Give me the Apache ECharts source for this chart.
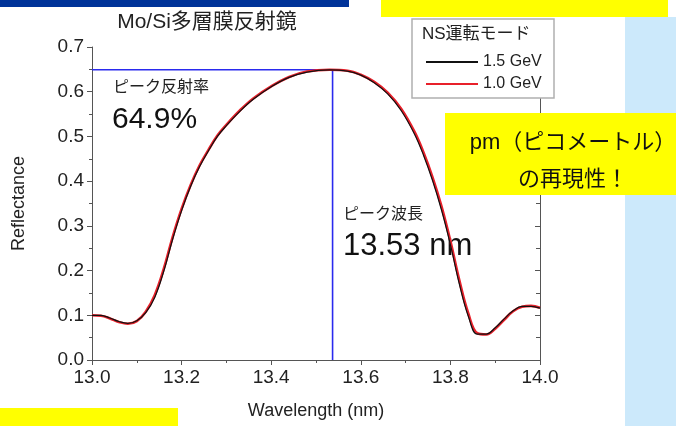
<!DOCTYPE html>
<html>
<head>
<meta charset="utf-8">
<script src="https://cdn.jsdelivr.net/npm/echarts@6/dist/echarts.min.js"></script>
<style>
  html, body { margin: 0; padding: 0; background: #fff; }
  #main { width: 676px; height: 426px; }
</style>
</head>
<body>
<div id="main"></div>
<script>
    var wavelength = [13.00, 13.02, 13.04, 13.06, 13.08, 13.10, 13.12, 13.14, 13.16, 13.18,
        13.20, 13.22, 13.24, 13.26, 13.28, 13.30, 13.33, 13.36, 13.40, 13.44,
        13.48, 13.53, 13.57, 13.60, 13.63, 13.66, 13.69, 13.72, 13.74, 13.76,
        13.78, 13.80, 13.82, 13.84, 13.86, 13.88, 13.90, 13.92, 13.94, 13.96,
        13.98, 14.00];
    var refl15 = [0.100, 0.100, 0.094, 0.086, 0.082, 0.088, 0.106, 0.140, 0.198, 0.270,
        0.334, 0.388, 0.432, 0.468, 0.500, 0.524, 0.556, 0.583, 0.611, 0.632,
        0.644, 0.649, 0.646, 0.637, 0.620, 0.595, 0.558, 0.505, 0.458, 0.402,
        0.336, 0.258, 0.170, 0.098, 0.058, 0.058, 0.072, 0.092, 0.110, 0.120,
        0.120, 0.116];
    var refl10 = [0.100, 0.099, 0.093, 0.085, 0.081, 0.087, 0.108, 0.145, 0.203, 0.275,
        0.338, 0.391, 0.435, 0.470, 0.502, 0.526, 0.558, 0.585, 0.612, 0.633,
        0.645, 0.649, 0.647, 0.638, 0.622, 0.598, 0.562, 0.510, 0.464, 0.409,
        0.344, 0.266, 0.178, 0.104, 0.060, 0.057, 0.070, 0.090, 0.109, 0.119,
        0.121, 0.117];
    var peakWl = 13.537;
    var peakR = 0.649;
    var xTicks = { min: 13.0, max: 14.0, step: 0.2 };
    var yTicks = { min: 0.0, max: 0.7, step: 0.1 };

    var FONT = '"Liberation Sans", "Noto Sans CJK JP", sans-serif';

    function pairs(xs, ys) {
        return xs.map(function (x, i) { return [x, ys[i]]; });
    }

    var chart = echarts.init(document.getElementById('main'));
    var option = {
        animation: false,
        textStyle: { fontFamily: FONT },
        grid: { left: 92, right: 136, top: 47, bottom: 66 },
        title: {
            text: 'Mo/Si多層膜反射鏡',
            left: 202, top: 7, textAlign: 'center',
            textStyle: { fontFamily: FONT, fontSize: 21, fontWeight: 'normal', color: '#222' }
        },
        legend: {
            data: ['1.5 GeV', '1.0 GeV'],
            orient: 'vertical',
            left: 421, top: 49,
            itemGap: 6,
            icon: 'rect',
            itemWidth: 52, itemHeight: 2,
            textStyle: { fontFamily: FONT, fontSize: 16, color: '#222' },
            z: 120
        },
        xAxis: [{
            type: 'value', min: xTicks.min, max: xTicks.max, interval: xTicks.step,
            name: 'Wavelength (nm)', nameLocation: 'middle', nameGap: 42,
            nameTextStyle: { fontFamily: FONT, fontSize: 18, color: '#222' },
            axisLine: { lineStyle: { color: '#555', width: 1 } },
            axisTick: { length: 5, lineStyle: { color: '#555' } },
            minorTick: { show: true, splitNumber: 2, length: 3, lineStyle: { color: '#555' } },
            axisLabel: { fontSize: 19, color: '#222', margin: 8, formatter: function (v) { return v.toFixed(1); } },
            splitLine: { show: false }
        }, {
            type: 'value', position: 'top', min: xTicks.min, max: xTicks.max, interval: xTicks.step,
            axisLine: { show: true, lineStyle: { color: '#555', width: 1 } },
            axisTick: { inside: true, length: 5, lineStyle: { color: '#555' } },
            minorTick: { show: true, splitNumber: 2, length: 3, lineStyle: { color: '#555' } },
            axisLabel: { show: false },
            splitLine: { show: false }
        }],
        yAxis: [{
            type: 'value', min: yTicks.min, max: yTicks.max, interval: yTicks.step,
            name: 'Reflectance', nameLocation: 'middle', nameGap: 64, nameRotate: 90,
            nameTextStyle: { fontFamily: FONT, fontSize: 18, color: '#222' },
            axisLine: { show: true, lineStyle: { color: '#555', width: 1 } },
            axisTick: { show: true, length: 5, lineStyle: { color: '#555' } },
            minorTick: { show: true, splitNumber: 2, length: 3, lineStyle: { color: '#555' } },
            axisLabel: { fontSize: 19, color: '#222', margin: 8, formatter: function (v) { return v.toFixed(1); } },
            splitLine: { show: false }
        }, {
            type: 'value', position: 'right', min: yTicks.min, max: yTicks.max, interval: yTicks.step,
            axisLine: { show: true, lineStyle: { color: '#555', width: 1 } },
            axisTick: { show: true, inside: true, length: 5, lineStyle: { color: '#555' } },
            minorTick: { show: true, splitNumber: 2, length: 4, lineStyle: { color: '#555' } },
            axisLabel: { show: false },
            splitLine: { show: false }
        }],
        series: [
            {
                name: 'peak',
                type: 'line',
                data: [[xTicks.min, peakR], [peakWl, peakR], [peakWl, 0]],
                symbol: 'none',
                lineStyle: { color: '#2a2aee', width: 1.6 },
                z: 3
            },
            {
                name: '1.0 GeV',
                type: 'line',
                data: pairs(wavelength, refl10),
                smooth: 0.4,
                symbol: 'none',
                itemStyle: { color: '#e8202a' },
                lineStyle: { color: '#e8202a', width: 2.6 },
                z: 4
            },
            {
                name: '1.5 GeV',
                type: 'line',
                data: pairs(wavelength, refl15),
                smooth: 0.4,
                symbol: 'none',
                itemStyle: { color: '#111' },
                lineStyle: { color: '#111', width: 1.2 },
                z: 5
            }
        ],
        graphic: [
            // 背景の装飾
            { type: 'rect', z: 0, shape: { x: 0, y: 0, width: 349, height: 7 }, style: { fill: '#003399' } },
            { type: 'rect', z: 0, shape: { x: 625, y: 17, width: 51, height: 409 }, style: { fill: '#cce9fb' } },
            { type: 'rect', z: 100, shape: { x: 381, y: 0, width: 287, height: 17 }, style: { fill: '#ffff00' } },
            { type: 'rect', z: 100, shape: { x: 0, y: 408, width: 178, height: 18 }, style: { fill: '#ffff00' } },
            // 凡例の枠
            { type: 'rect', z: 110, shape: { x: 412, y: 19, width: 142, height: 79 }, style: { fill: '#fff', stroke: '#b0b0b0', lineWidth: 1.5 } },
            { type: 'text', z: 120, left: 422, top: 26, style: { text: 'NS運転モード', font: '17px ' + FONT, fill: '#222' } },
            // 注釈
            { type: 'text', z: 1, left: 113, top: 80, style: { text: 'ピーク反射率', font: '16px ' + FONT, fill: '#222' } },
            { type: 'text', z: 1, left: 112, top: 105, style: { text: '64.9%', font: '30px ' + FONT, fill: '#111' } },
            { type: 'text', z: 1, left: 343, top: 207, style: { text: 'ピーク波長', font: '16px ' + FONT, fill: '#222' } },
            { type: 'text', z: 1, left: 343, top: 231, style: { text: '13.53 nm', font: '31px ' + FONT, fill: '#111' } },
            // 黄色の吹き出し
            { type: 'rect', z: 100, shape: { x: 445, y: 113, width: 231, height: 82 }, style: { fill: '#ffff00' } },
            { type: 'text', z: 101, x: 573, y: 124, style: { text: 'pm（ピコメートル）\nの再現性！', font: '22px ' + FONT, fill: '#111', textAlign: 'center', lineHeight: 37 } }
        ]
    };
    chart.setOption(option);
</script>
</body>
</html>
